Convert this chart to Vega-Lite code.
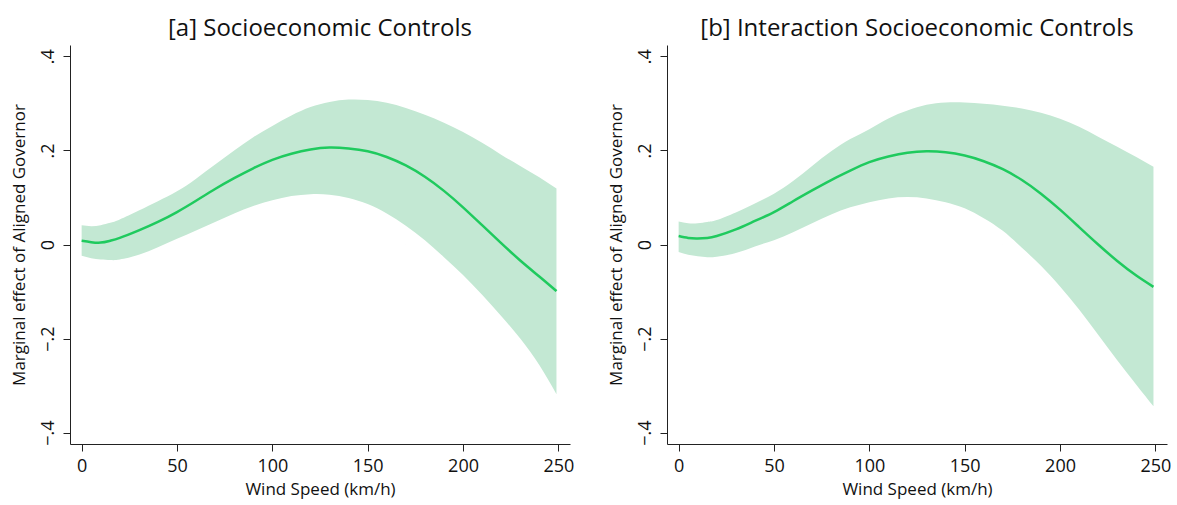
{
  "$schema": "https://vega.github.io/schema/vega-lite/v6.json",
  "background": "white",
  "padding": {"left": 10, "top": 17, "right": 5, "bottom": 3},
  "datasets": {
    "a": [
      {"x": 0, "est": 0.008, "lo": -0.024, "hi": 0.041},
      {"x": 5, "est": 0.005, "lo": -0.029, "hi": 0.039},
      {"x": 10, "est": 0.004, "lo": -0.032, "hi": 0.041},
      {"x": 15, "est": 0.008, "lo": -0.033, "hi": 0.046},
      {"x": 20, "est": 0.014, "lo": -0.032, "hi": 0.053},
      {"x": 30, "est": 0.03, "lo": -0.022, "hi": 0.072},
      {"x": 40, "est": 0.048, "lo": -0.006, "hi": 0.092},
      {"x": 50, "est": 0.069, "lo": 0.012, "hi": 0.113},
      {"x": 60, "est": 0.093, "lo": 0.03, "hi": 0.14},
      {"x": 70, "est": 0.118, "lo": 0.048, "hi": 0.17},
      {"x": 80, "est": 0.141, "lo": 0.066, "hi": 0.2},
      {"x": 90, "est": 0.162, "lo": 0.082, "hi": 0.228},
      {"x": 100, "est": 0.18, "lo": 0.094, "hi": 0.252},
      {"x": 110, "est": 0.193, "lo": 0.103, "hi": 0.274},
      {"x": 120, "est": 0.202, "lo": 0.107, "hi": 0.292},
      {"x": 130, "est": 0.206, "lo": 0.106, "hi": 0.303},
      {"x": 140, "est": 0.204, "lo": 0.099, "hi": 0.308},
      {"x": 150, "est": 0.198, "lo": 0.086, "hi": 0.307},
      {"x": 160, "est": 0.186, "lo": 0.066, "hi": 0.301},
      {"x": 170, "est": 0.168, "lo": 0.04, "hi": 0.29},
      {"x": 180, "est": 0.144, "lo": 0.009, "hi": 0.276},
      {"x": 190, "est": 0.114, "lo": -0.027, "hi": 0.259},
      {"x": 200, "est": 0.079, "lo": -0.065, "hi": 0.239},
      {"x": 210, "est": 0.041, "lo": -0.107, "hi": 0.216},
      {"x": 220, "est": 0.003, "lo": -0.152, "hi": 0.191},
      {"x": 230, "est": -0.034, "lo": -0.2, "hi": 0.167},
      {"x": 240, "est": -0.068, "lo": -0.256, "hi": 0.143},
      {"x": 249, "est": -0.099, "lo": -0.318, "hi": 0.119}
    ],
    "b": [
      {"x": 0, "est": 0.018, "lo": -0.016, "hi": 0.049},
      {"x": 5, "est": 0.014, "lo": -0.022, "hi": 0.045},
      {"x": 10, "est": 0.013, "lo": -0.025, "hi": 0.045},
      {"x": 15, "est": 0.014, "lo": -0.027, "hi": 0.048},
      {"x": 20, "est": 0.018, "lo": -0.026, "hi": 0.052},
      {"x": 30, "est": 0.032, "lo": -0.018, "hi": 0.068},
      {"x": 40, "est": 0.05, "lo": -0.004, "hi": 0.087},
      {"x": 50, "est": 0.069, "lo": 0.009, "hi": 0.108},
      {"x": 60, "est": 0.092, "lo": 0.026, "hi": 0.135},
      {"x": 70, "est": 0.115, "lo": 0.045, "hi": 0.167},
      {"x": 80, "est": 0.137, "lo": 0.064, "hi": 0.198},
      {"x": 90, "est": 0.157, "lo": 0.079, "hi": 0.224},
      {"x": 100, "est": 0.175, "lo": 0.09, "hi": 0.245},
      {"x": 110, "est": 0.187, "lo": 0.098, "hi": 0.268},
      {"x": 120, "est": 0.195, "lo": 0.101, "hi": 0.285},
      {"x": 130, "est": 0.198, "lo": 0.098, "hi": 0.297},
      {"x": 140, "est": 0.196, "lo": 0.09, "hi": 0.302},
      {"x": 150, "est": 0.189, "lo": 0.077, "hi": 0.302},
      {"x": 160, "est": 0.177, "lo": 0.056, "hi": 0.299},
      {"x": 170, "est": 0.16, "lo": 0.029, "hi": 0.295},
      {"x": 180, "est": 0.137, "lo": -0.007, "hi": 0.289},
      {"x": 190, "est": 0.108, "lo": -0.045, "hi": 0.28},
      {"x": 200, "est": 0.074, "lo": -0.089, "hi": 0.267},
      {"x": 210, "est": 0.037, "lo": -0.138, "hi": 0.25},
      {"x": 220, "est": 0.0, "lo": -0.192, "hi": 0.229},
      {"x": 230, "est": -0.035, "lo": -0.246, "hi": 0.208},
      {"x": 240, "est": -0.066, "lo": -0.298, "hi": 0.186},
      {"x": 249, "est": -0.09, "lo": -0.344, "hi": 0.165}
    ]
  },
  "config": {
    "font": "Open Sans",
    "bounds": "flush",
    "view": {"stroke": null},
    "title": {"fontSize": 24, "fontWeight": "normal", "color": "#111111", "font": "Open Sans", "offset": 4},
    "axis": {
      "grid": false,
      "domainColor": "#222222",
      "tickColor": "#222222",
      "tickSize": 7,
      "labelFontSize": 18,
      "titleFontSize": 17,
      "labelColor": "#111111",
      "titleColor": "#111111",
      "labelFont": "Open Sans",
      "titleFont": "Open Sans",
      "titleFontWeight": "normal",
      "labelPadding": 6
    }
  },
  "spacing": 33,
  "hconcat": [
    {
      "title": "[a] Socioeconomic Controls",
      "width": 500,
      "height": 399,
      "data": {"name": "a"},
      "encoding": {
        "x": {"field": "x", "type": "quantitative", "scale": {"domain": [-6.1, 256.1], "nice": false, "zero": false}, "axis": {"values": [0, 50, 100, 150, 200, 250], "title": "Wind Speed (km/h)", "titlePadding": 6}}
      },
      "layer": [
        {"mark": {"type": "area", "color": "#c3e8d3", "opacity": 1, "interpolate": "natural"}, "encoding": {"y": {"field": "lo", "type": "quantitative", "scale": {"domain": [-0.424, 0.424], "nice": false}, "axis": {"values": [-0.4, -0.2, 0, 0.2, 0.4], "format": ".1f", "labelExpr": "datum.value == 0 ? '0' : replace(datum.label, '0.', '.')", "labelAngle": -90, "labelAlign": "center", "labelBaseline": "bottom", "labelPadding": 6, "title": "Marginal effect of Aligned Governor", "titlePadding": 11}}, "y2": {"field": "hi"}}},
        {"mark": {"type": "rule", "color": "#b8b8b8", "strokeDash": [8, 5], "strokeWidth": 1}, "encoding": {"y": {"datum": 0}}},
        {"mark": {"type": "line", "color": "#1fca5e", "strokeWidth": 2.5, "interpolate": "natural"}, "encoding": {"y": {"field": "est", "type": "quantitative"}}}
      ]
    },
    {
      "title": "[b] Interaction Socioeconomic Controls",
      "width": 500,
      "height": 399,
      "data": {"name": "b"},
      "encoding": {
        "x": {"field": "x", "type": "quantitative", "scale": {"domain": [-6.1, 256.1], "nice": false, "zero": false}, "axis": {"values": [0, 50, 100, 150, 200, 250], "title": "Wind Speed (km/h)", "titlePadding": 6}}
      },
      "layer": [
        {"mark": {"type": "area", "color": "#c3e8d3", "opacity": 1, "interpolate": "natural"}, "encoding": {"y": {"field": "lo", "type": "quantitative", "scale": {"domain": [-0.424, 0.424], "nice": false}, "axis": {"values": [-0.4, -0.2, 0, 0.2, 0.4], "format": ".1f", "labelExpr": "datum.value == 0 ? '0' : replace(datum.label, '0.', '.')", "labelAngle": -90, "labelAlign": "center", "labelBaseline": "bottom", "labelPadding": 6, "title": "Marginal effect of Aligned Governor", "titlePadding": 11}}, "y2": {"field": "hi"}}},
        {"mark": {"type": "rule", "color": "#b8b8b8", "strokeDash": [8, 5], "strokeWidth": 1}, "encoding": {"y": {"datum": 0}}},
        {"mark": {"type": "line", "color": "#1fca5e", "strokeWidth": 2.5, "interpolate": "natural"}, "encoding": {"y": {"field": "est", "type": "quantitative"}}}
      ]
    }
  ]
}
